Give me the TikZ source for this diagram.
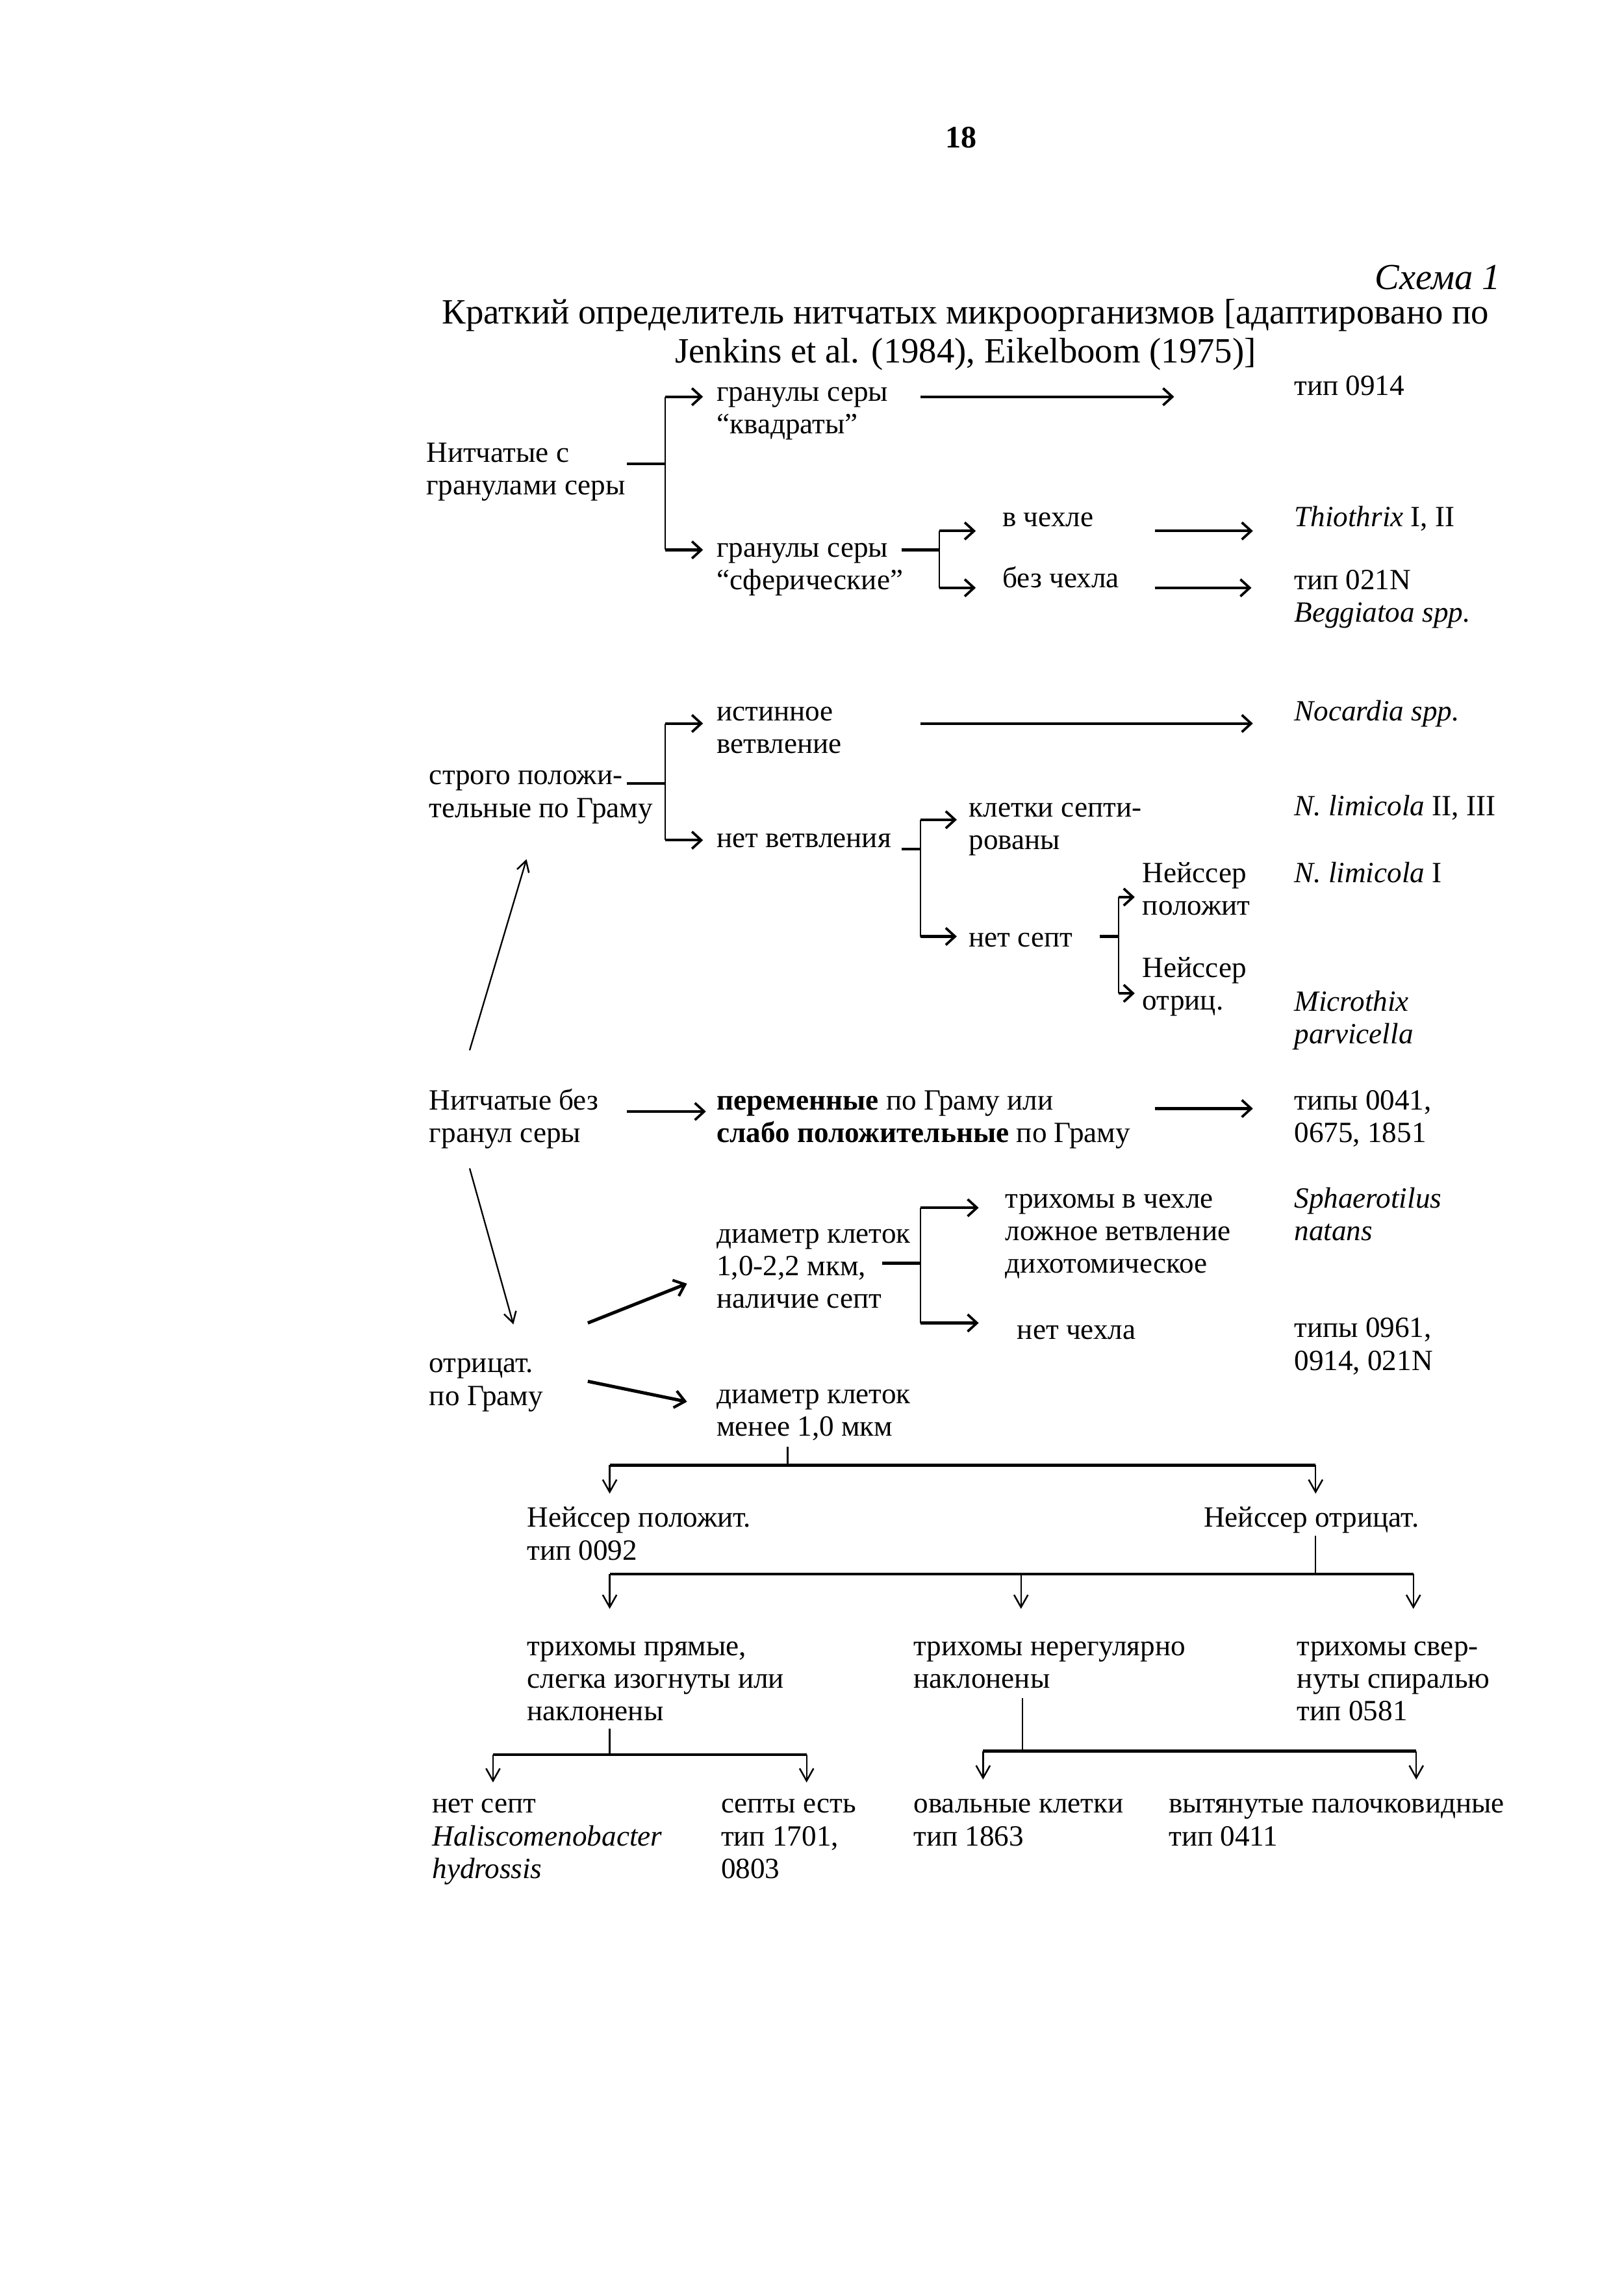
\documentclass[tikz,border=0pt]{standalone}
\usepackage{fontspec}
\setmainfont{Liberation Serif}
\usetikzlibrary{arrows.meta}
\newcommand\bodyf{\fontsize{10.8}{12}\selectfont}
\newcommand\titlef{\fontsize{13.1}{14.5}\selectfont}
\begin{document}
\begin{tikzpicture}[x=0.18868mm,y=-0.18868mm,
  txt/.style={anchor=north west,inner sep=0pt,align=left,yshift=2.08mm,font=\bodyf},
  hl/.style={line width=1pt},
  vl/.style={line width=0.55pt},
  harr/.style={hl,-{Straight Barb[length=1.2mm,width=2.2mm,line width=0.9pt]}},
  darr/.style={vl,-{Straight Barb[length=1.6mm,width=1.8mm,line width=0.6pt]}},
  tarr/.style={vl,-{Straight Barb[length=1.4mm,width=1.6mm,line width=0.6pt]}},
  dgarr/.style={line width=1.2pt,-{Straight Barb[length=1.3mm,width=2.2mm,line width=1pt]}},
]
\useasboundingbox (0,0) rectangle (1113,1568.6);
\fill[white] (0,0) rectangle (1113,1568.6);

% header
\node[font=\fontsize{11.5}{13}\selectfont\bfseries,inner sep=0pt] (pg) at (659,94.5) {18};
\node[font=\fontsize{13.5}{15}\selectfont\itshape,anchor=east,inner sep=0pt] (sch) at (1029,190) {Схема 1};
\node[font=\titlef,inner sep=0pt] (ti1) at (662,216) {Краткий определитель нитчатых микроорганизмов [адаптировано по};
\node[font=\titlef,inner sep=0pt] (ti2) at (662,243) {Jenkins et al. (1984), Eikelboom (1975)]};

% ---------- section 1 text
\node[txt] (s1) at (292,312) {\strut Нитчатые с\\гранулами серы};
\node[txt] (q1) at (491,270) {\strut гранулы серы\\“квадраты”};
\node[txt] (t0914) at (887,266) {\strut тип 0914};
\node[txt] (q2) at (491,377) {\strut гранулы серы\\“сферические”};
\node[txt] (vch) at (687,356) {\strut в чехле};
\node[txt] (bch) at (687,398) {\strut без чехла};
\node[txt] (thio) at (887,356) {\strut \textit{Thiothrix} I, II};
\node[txt] (t021) at (887,399) {\strut тип 021N\\\textit{Beggiatoa spp.}};

% ---------- section 2 text
\node[txt] (s2) at (294,533) {\strut строго положи-\\тельные по Граму};
\node[txt] (ist) at (491,489) {\strut истинное\\ветвление};
\node[txt] (noc) at (887,489) {\strut \textit{Nocardia spp.}};
\node[txt] (netv) at (491,576) {\strut нет ветвления};
\node[txt] (kl) at (664,555) {\strut клетки септи-\\рованы};
\node[txt] (nl23) at (887,554) {\strut \textit{N. limicola} II, III};
\node[txt] (ns) at (664,644) {\strut нет септ};
\node[txt] (neip) at (783,600) {\strut Нейссер\\положит};
\node[txt] (nl1) at (887,600) {\strut \textit{N. limicola} I};
\node[txt] (neio) at (783,665) {\strut Нейссер\\отриц.};
\node[txt] (mic) at (887,688) {\strut \textit{Microthix}\\\textit{parvicella}};

% ---------- section 3 text
\node[txt] (s3) at (294,756) {\strut Нитчатые без\\гранул серы};
\node[txt] (per) at (491,756) {\strut \textbf{переменные} по Граму или\\\textbf{слабо положительные} по Граму};
\node[txt] (t0041) at (887,756) {\strut типы 0041,\\0675, 1851};

% ---------- section 4 text
\node[txt] (s4) at (294,936) {\strut отрицат.\\по Граму};
\node[txt] (d1) at (491,847) {\strut диаметр клеток\\1,0-2,2 мкм,\\наличие септ};
\node[txt] (trih) at (689,823) {\strut трихомы в чехле\\ложное ветвление\\дихотомическое};
\node[txt] (sph) at (887,823) {\strut \textit{Sphaerotilus}\\\textit{natans}};
\node[txt] (nch) at (697,913) {\strut нет чехла};
\node[txt] (t0961) at (887,912) {\strut типы 0961,\\0914, 021N};
\node[txt] (d2) at (491,957) {\strut диаметр клеток\\менее 1,0 мкм};

% ---------- section 5 text
\node[txt] (np) at (361,1042) {\strut Нейссер положит.\\тип 0092};
\node[txt] (no) at (825,1042) {\strut Нейссер отрицат.};
\node[txt] (tp) at (361,1130) {\strut трихомы прямые,\\слегка изогнуты или\\наклонены};
\node[txt] (tn) at (626,1130) {\strut трихомы нерегулярно\\наклонены};
\node[txt] (ts) at (889,1130) {\strut трихомы свер-\\нуты спиралью\\тип 0581};
\node[txt] (nsep) at (296,1238) {\strut нет септ\\\textit{Haliscomenobacter}\\\textit{hydrossis}};
\node[txt] (sep) at (494,1238) {\strut септы есть\\тип 1701,\\0803};
\node[txt] (ov) at (626,1238) {\strut овальные клетки\\тип 1863};
\node[txt] (vyt) at (801,1238) {\strut вытянутые палочковидные\\тип 0411};

% ---------- connectors section 1
\coordinate (c1a) at (430,318); \coordinate (c1b) at (456,318);
\coordinate (c1t) at (456,272); \coordinate (c1u) at (456,377);
\coordinate (c1te) at (482,272); \coordinate (c1ue) at (482,377);
\draw[hl] (c1a) -- (c1b);
\draw[vl] (c1t) -- (c1u);
\draw[harr] (c1t) -- (c1te);
\draw[harr] (c1u) -- (c1ue);
\coordinate (a1s) at (631,272); \coordinate (a1e) at (805,272);
\draw[harr] (a1s) -- (a1e);
\coordinate (c2a) at (618,377); \coordinate (c2b) at (644,377);
\coordinate (c2t) at (644,364); \coordinate (c2u) at (644,403);
\coordinate (c2te) at (669,364); \coordinate (c2ue) at (669,403);
\draw[hl] (c2a) -- (c2b);
\draw[vl] (c2t) -- (c2u);
\draw[harr] (c2t) -- (c2te);
\draw[harr] (c2u) -- (c2ue);
\coordinate (a2s) at (792,364); \coordinate (a2e) at (859,364);
\coordinate (a3s) at (792,403); \coordinate (a3e) at (858,403);
\draw[harr] (a2s) -- (a2e);
\draw[harr] (a3s) -- (a3e);

% ---------- connectors section 2
\coordinate (c3a) at (430,537); \coordinate (c3b) at (456,537);
\coordinate (c3t) at (456,496); \coordinate (c3u) at (456,576);
\coordinate (c3te) at (482,496); \coordinate (c3ue) at (482,576);
\draw[hl] (c3a) -- (c3b);
\draw[vl] (c3t) -- (c3u);
\draw[harr] (c3t) -- (c3te);
\draw[harr] (c3u) -- (c3ue);
\coordinate (a4s) at (631,496); \coordinate (a4e) at (859,496);
\draw[harr] (a4s) -- (a4e);
\coordinate (c4a) at (618,582); \coordinate (c4b) at (631,582);
\coordinate (c4t) at (631,562); \coordinate (c4u) at (631,642);
\coordinate (c4te) at (656,562); \coordinate (c4ue) at (656,642);
\draw[hl] (c4a) -- (c4b);
\draw[vl] (c4t) -- (c4u);
\draw[harr] (c4t) -- (c4te);
\draw[harr] (c4u) -- (c4ue);
\coordinate (c5a) at (754,642); \coordinate (c5b) at (767,642);
\coordinate (c5t) at (767,615); \coordinate (c5u) at (767,681);
\coordinate (c5te) at (778,615); \coordinate (c5ue) at (778,681);
\draw[hl] (c5a) -- (c5b);
\draw[vl] (c5t) -- (c5u);
\draw[harr] (c5t) -- (c5te);
\draw[harr] (c5u) -- (c5ue);
\coordinate (up1s) at (322,720); \coordinate (up1e) at (361,589);
\draw[tarr] (up1s) -- (up1e);

% ---------- connectors section 3
\coordinate (a5s) at (430,762); \coordinate (a5e) at (484,762);
\draw[harr] (a5s) -- (a5e);
\coordinate (a6s) at (792,760); \coordinate (a6e) at (859,760);
\draw[harr] (a6s) -- (a6e);
\coordinate (dn1s) at (322,801); \coordinate (dn1e) at (352,908);
\draw[tarr] (dn1s) -- (dn1e);

% ---------- connectors section 4
\coordinate (g1s) at (403,907); \coordinate (g1e) at (471,880);
\coordinate (g2s) at (403,947); \coordinate (g2e) at (471,961);
\draw[dgarr] (g1s) -- (g1e);
\draw[dgarr] (g2s) -- (g2e);
\coordinate (c6a) at (605,866); \coordinate (c6b) at (631,866);
\coordinate (c6t) at (631,828); \coordinate (c6u) at (631,907);
\coordinate (c6te) at (671,828); \coordinate (c6ue) at (671,907);
\draw[hl] (c6a) -- (c6b);
\draw[vl] (c6t) -- (c6u);
\draw[harr] (c6t) -- (c6te);
\draw[harr] (c6u) -- (c6ue);
\coordinate (h1s) at (540,992); \coordinate (h1m) at (540,1004.5);
\coordinate (h1l) at (418,1004.5); \coordinate (h1r) at (902,1004.5);
\coordinate (h1le) at (418,1024); \coordinate (h1re) at (902,1024);
\draw[vl] (h1s) -- (h1m);
\draw[hl] (h1l) -- (h1r);
\draw[darr] (h1l) -- (h1le);
\draw[darr] (h1r) -- (h1re);

% ---------- connectors section 5
\coordinate (h2s) at (902,1053); \coordinate (h2m) at (902,1079);
\coordinate (h2l) at (418,1079); \coordinate (h2c) at (700,1079); \coordinate (h2r) at (969,1079);
\coordinate (h2le) at (418,1103); \coordinate (h2ce) at (700,1103); \coordinate (h2re) at (969,1103);
\draw[vl] (h2s) -- (h2m);
\draw[hl] (h2l) -- (h2r);
\draw[darr] (h2l) -- (h2le);
\draw[darr] (h2c) -- (h2ce);
\draw[darr] (h2r) -- (h2re);
\coordinate (h3s) at (418,1185); \coordinate (h3m) at (418,1203);
\coordinate (h3l) at (338,1203); \coordinate (h3r) at (553,1203);
\coordinate (h3le) at (338,1222); \coordinate (h3re) at (553,1222);
\draw[vl] (h3s) -- (h3m);
\draw[hl] (h3l) -- (h3r);
\draw[darr] (h3l) -- (h3le);
\draw[darr] (h3r) -- (h3re);
\coordinate (h4s) at (701,1164); \coordinate (h4m) at (701,1200.5);
\coordinate (h4l) at (674,1200.5); \coordinate (h4r) at (971,1200.5);
\coordinate (h4le) at (674,1220); \coordinate (h4re) at (971,1220);
\draw[vl] (h4s) -- (h4m);
\draw[hl] (h4l) -- (h4r);
\draw[darr] (h4l) -- (h4le);
\draw[darr] (h4r) -- (h4re);
\end{tikzpicture}
\end{document}
